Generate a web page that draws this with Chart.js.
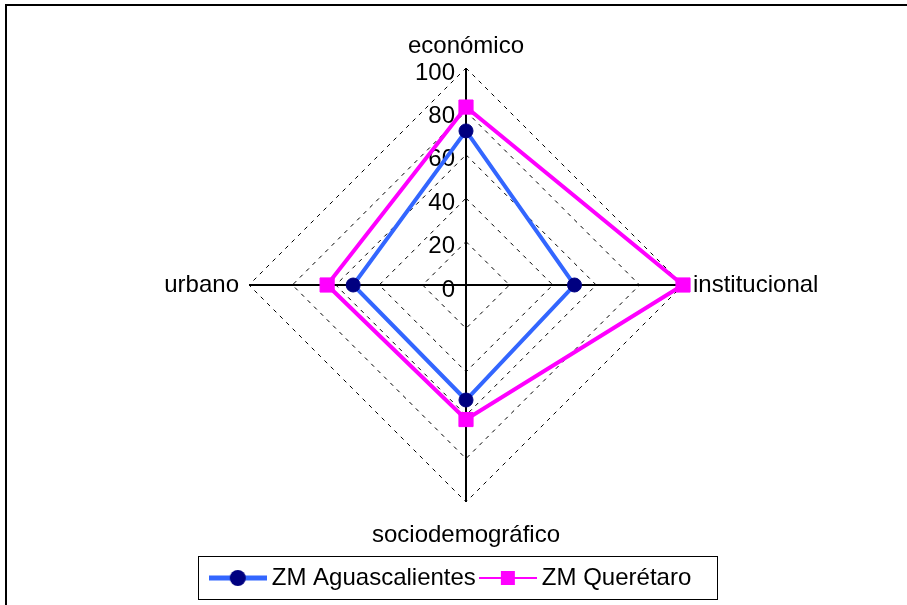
<!DOCTYPE html>
<html>
<head>
<meta charset="utf-8">
<script src="https://cdn.jsdelivr.net/npm/chart.js@4.4.0/dist/chart.umd.min.js"></script>
<style>
  html, body { margin: 0; padding: 0; background: #fff; overflow: hidden; }
  canvas { display: block; }
</style>
</head>
<body>
<canvas id="radar" width="907" height="605"></canvas>
<script>
// axes of the radar, clockwise from the top
let categories = ['económico', 'institucional', 'sociodemográfico', 'urbano'];
// values
let aguascalientes = [71, 50, 53, 52];
let queretaro = [82, 100, 62, 64];
let tickValues = [0, 20, 40, 60, 80, 100];

const fontFamily = 'Arial, "Liberation Sans", sans-serif';
Chart.defaults.font.family = fontFamily;
Chart.defaults.color = '#000';

// little line + marker pictures for the legend
function legendMark(lineColor, lineWidth, fill, shape) {
    let c = document.createElement('canvas');
    c.width = 58;
    c.height = 18;
    let g = c.getContext('2d');
    g.strokeStyle = lineColor;
    g.lineWidth = lineWidth;
    g.beginPath();
    g.moveTo(0, 9);
    g.lineTo(58, 9);
    g.stroke();
    g.fillStyle = fill;
    if (shape === 'circle') {
        g.beginPath();
        g.arc(29, 9, 8, 0, Math.PI * 2);
        g.fill();
    } else {
        g.fillRect(22, 2, 14, 14);
    }
    return c;
}
let legendMarks = [
    legendMark('#3366FF', 5, '#000080', 'circle'),
    legendMark('#FF00FF', 2, '#FF00FF', 'rect')
];

// empty strip on the left so the radar sits a bit right of the legend
const leftGutter = {
    id: 'leftGutter',
    beforeInit(chart) {
        Chart.layouts.addBox(chart, {
            position: 'left',
            weight: 0,
            fullSize: false,
            options: {},
            width: 0,
            height: 0,
            isHorizontal() { return false; },
            update(maxWidth, maxHeight) {
                this.width = 25;
                this.height = maxHeight;
            },
            draw() {}
        });
    }
};

// white page and the cut-off outer frame (top and left edges only)
const pageFrame = {
    id: 'pageFrame',
    beforeDraw(chart) {
        let ctx = chart.ctx;
        ctx.save();
        ctx.fillStyle = '#fff';
        ctx.fillRect(0, 0, chart.width, chart.height);
        ctx.strokeStyle = '#000';
        ctx.lineWidth = 2;
        ctx.beginPath();
        ctx.moveTo(6, chart.height);
        ctx.lineTo(6, 5);
        ctx.lineTo(chart.width, 5);
        ctx.stroke();
        ctx.restore();
    }
};

// tick numbers sit left of the vertical axis
const tickText = {
    id: 'tickText',
    beforeDatasetsDraw(chart) {
        let r = chart.scales.r;
        let ctx = chart.ctx;
        ctx.save();
        ctx.font = '24px ' + fontFamily;
        ctx.fillStyle = '#000';
        ctx.textAlign = 'right';
        ctx.textBaseline = 'middle';
        r.ticks.forEach(t => {
            let d = r.getDistanceFromCenterForValue(t.value);
            ctx.fillText(String(t.value), r.xCenter - 11, r.yCenter - d + 5);
        });
        ctx.restore();
    }
};

// frame round the legend
const legendBox = {
    id: 'legendBox',
    afterDraw(chart) {
        let boxes = chart.legend.legendHitBoxes;
        if (!boxes || !boxes.length) return;
        let first = boxes[0];
        let last = boxes[boxes.length - 1];
        let ctx = chart.ctx;
        ctx.save();
        ctx.strokeStyle = '#000';
        ctx.lineWidth = 1;
        let x0 = Math.round(first.left) - 17.5;
        let x1 = Math.round(last.left + last.width) + 26.5;
        ctx.strokeRect(x0, Math.round(first.top) - 9.5, x1 - x0, 43);
        ctx.restore();
    }
};

let radar = new Chart(document.getElementById('radar'), {
    type: 'radar',
    data: {
        labels: categories,
        datasets: [{
            label: 'ZM Aguascalientes',
            data: aguascalientes,
            borderColor: '#3366FF',
            borderWidth: 4,
            pointStyle: 'circle',
            pointRadius: 7,
            pointBorderWidth: 1,
            pointBackgroundColor: '#000080',
            pointBorderColor: '#000080',
            fill: false
        }, {
            label: 'ZM Querétaro',
            data: queretaro,
            borderColor: '#FF00FF',
            borderWidth: 4,
            pointStyle: 'rect',
            pointRadius: 10,
            pointBorderWidth: 1,
            pointBackgroundColor: '#FF00FF',
            pointBorderColor: '#FF00FF',
            fill: false
        }]
    },
    options: {
        responsive: false,
        animation: false,
        events: [],
        layout: {
            padding: { left: 0, right: 0, top: 26, bottom: 5 }
        },
        elements: { line: { tension: 0 } },
        scales: {
            r: {
                min: tickValues[0],
                max: tickValues[tickValues.length - 1],
                ticks: { stepSize: 20, display: false },
                grid: { color: '#000', lineWidth: 1 },
                border: { dash: [4, 5] },
                angleLines: { color: '#000', lineWidth: 2 },
                pointLabels: {
                    color: '#000',
                    font: { family: fontFamily, size: 24, lineHeight: '30px' },
                    padding: ctx => [7, 10, 18, 10][ctx.index]
                }
            }
        },
        plugins: {
            tooltip: { enabled: false },
            legend: {
                position: 'bottom',
                labels: {
                    usePointStyle: true,
                    pointStyleWidth: 44,
                    padding: 10,
                    color: '#000',
                    font: { family: fontFamily, size: 24 },
                    generateLabels(chart) {
                        let items = Chart.defaults.plugins.legend.labels.generateLabels(chart);
                        items.forEach((item, i) => { item.pointStyle = legendMarks[i]; });
                        return items;
                    }
                }
            }
        }
    },
    plugins: [leftGutter, pageFrame, tickText, legendBox]
});
</script>
</body>
</html>
